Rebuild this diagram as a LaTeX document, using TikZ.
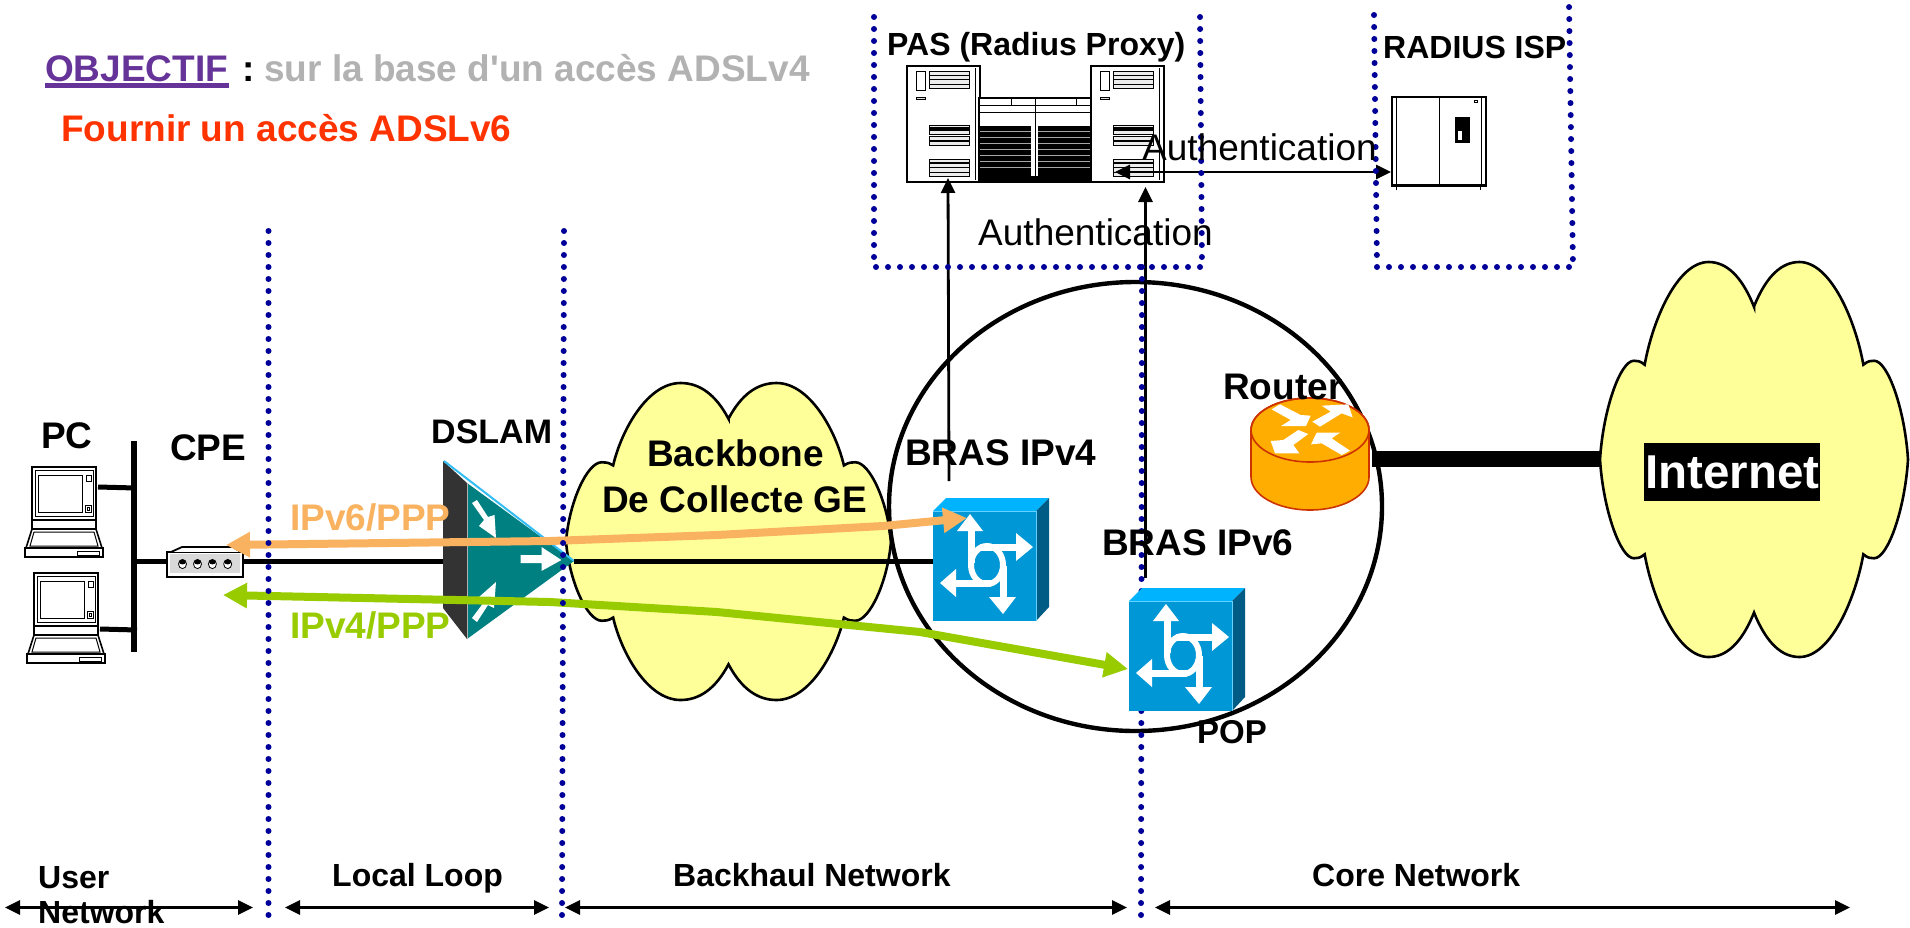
\documentclass[tikz,border=0pt]{standalone}
\usepackage{fontspec}
\setmainfont{Liberation Sans}
\newfontfamily\plainsans{Liberation Sans}
\usetikzlibrary{arrows.meta}
\definecolor{dotblue}{HTML}{000099}
\definecolor{cloudy}{HTML}{FFFF99}
\definecolor{orangearr}{HTML}{F9B25F}
\definecolor{greenarr}{HTML}{99CC00}
\definecolor{purp}{HTML}{663399}
\definecolor{redt}{HTML}{FF3300}
\definecolor{greyt}{HTML}{B2B2B2}
\definecolor{swfront}{HTML}{0097D6}
\definecolor{swtop}{HTML}{00B3FF}
\definecolor{swside}{HTML}{005C85}
\definecolor{routf}{HTML}{FFAD00}
\definecolor{routd}{HTML}{CC3300}
\definecolor{dslamteal}{HTML}{008080}
\tikzset{
  lab/.style={inner sep=0pt,anchor=base west,font=\fontsize{#1}{#1}\selectfont\bfseries},
  lab/.default=37pt,
  authlab/.style={inner sep=0pt,anchor=base west,font=\fontsize{37}{37}\selectfont},
  dotline/.style={draw=dotblue,line width=6pt,line cap=round,dash pattern=on 0pt off 12pt},
  blackarrow/.style={draw=black,line width=2.8pt,-{Triangle[length=15pt,width=14pt]}},
  spanarrow/.style={draw=black,line width=2.8pt,{Triangle[length=15pt,width=14pt]}-{Triangle[length=15pt,width=14pt]}},
  flowarrow/.style={draw=#1,line width=8pt,line join=round,{Triangle[length=24pt,width=24pt]}-{Triangle[length=24pt,width=24pt]}},
  hw/.style={draw=black,line width=2.5pt,fill=white},
  fine/.style={draw=black,line width=1pt},
  swfrontn/.style={fill=swfront,minimum width=103pt,minimum height=110pt,inner sep=0pt},
}
\newcommand{\DrawCloud}[4]{%
  \begin{scope}[shift={(#1,#2)},xscale=#3,yscale=#4]
  \path[fill=cloudy,draw=black,line width=2.6pt,line join=miter]
    (0,-.775) .. controls (.08,-.93) and (.18,-1) .. (.295,-1)
    .. controls (.50,-1) and (.66,-.70) .. (.71,-.48)
    .. controls (.74,-.50) and (.76,-.50) .. (.78,-.50)
    .. controls (.87,-.50) and (.98,-.25) .. (1,0)
    .. controls (.98,.25) and (.87,.50) .. (.78,.50)
    .. controls (.76,.50) and (.74,.50) .. (.71,.48)
    .. controls (.66,.70) and (.50,1) .. (.295,1)
    .. controls (.18,1) and (.08,.93) .. (0,.775)
    .. controls (-.08,.93) and (-.18,1) .. (-.295,1)
    .. controls (-.50,1) and (-.66,.70) .. (-.71,.48)
    .. controls (-.74,.50) and (-.76,.50) .. (-.78,.50)
    .. controls (-.87,.50) and (-.98,.25) .. (-1,0)
    .. controls (-.98,-.25) and (-.87,-.50) .. (-.78,-.50)
    .. controls (-.76,-.50) and (-.74,-.50) .. (-.71,-.48)
    .. controls (-.66,-.70) and (-.50,-1) .. (-.295,-1)
    .. controls (-.18,-1) and (-.08,-.93) .. cycle;
  \end{scope}}
\newcommand{\DrawLaptop}[2]{%
  \begin{scope}[shift={(#1,#2)}]
  \draw[hw,line width=1.8pt] (-7,81) rectangle (71,90);
  \draw[hw,line width=1.6pt] (0,62) -- (64,62) -- (70,81) -- (-6,81) -- cycle;
  \draw[fine] (2,65) -- (62,65) -- (66,79) -- (-2,79) -- cycle;
  \draw[hw,line width=1.6pt] (0,53) rectangle (64,62);
  \draw[hw,line width=2pt] (0,0) rectangle (64,53);
  \draw[fine] (3,3) rectangle (61,49);
  \draw[fine] (6.5,8) rectangle (50,45);
  \draw[fine] (54,8) rectangle (59,14);
  \draw[fine] (53,38) rectangle (59,45);
  \draw[fine] (55,40) rectangle (57,43);
  \draw[fine] (45,84) rectangle (67,88);
  \end{scope}}
\newcommand{\DrawTower}[2]{%
  \begin{scope}[shift={(#1,#2)}]
  \draw[hw,line width=2.6pt] (0,0) rectangle (73,116);
  \draw[fine] (68,2) -- (68,114);
  \draw[fine] (9.4,5) rectangle (18,24.3);
  \draw[fine,fill=gray!25] (9.4,31) rectangle (18,33.7);
  \foreach \yy in {5,9.4,13.8,18.2,59,64.5,70,75.5,93,97.4,101.8,106.2}{
    \draw[fine,fill=gray!15] (22.6,\yy) rectangle (62.8,\yy+4.4);}
  \draw[black,line width=2pt] (22.6,62) -- (62.8,62);
  \draw[black,line width=2pt] (22.6,97.4) -- (62.8,97.4);
  \end{scope}}
\newcommand{\DrawSwitch}[3]{%
  \begin{scope}[shift={(#1,#2)}]
  \fill[swtop] (0,0) -- (13,-13) -- (116,-13) -- (103,0) -- cycle;
  \fill[swside] (103,0) -- (116,-13) -- (116,96) -- (103,110) -- cycle;
  \node[swfrontn] (#3) at (51.5,55) {};
  \draw[swtop!60,line width=.8pt] (0,0) -- (103,0) -- (103,110);
  \begin{scope}[white,line width=7pt]
    \draw (38,18) -- (38,52);
    \draw (47,36) -- (85,36);
    \draw (21,72) -- (58,72);
    \draw (70,55) -- (70,88);
    \draw[line width=6pt] (54,54) ellipse [x radius=16pt,y radius=19pt];
  \end{scope}
  \fill[white] (37,3) -- (50,20) -- (24,20) -- cycle;
  \fill[white] (100,36) -- (83,22) -- (83,50) -- cycle;
  \fill[white] (7,72) -- (23,58) -- (23,86) -- cycle;
  \fill[white] (70,103) -- (56,86) -- (83,86) -- cycle;
  \end{scope}}
\begin{document}
\begin{tikzpicture}[x=1pt,y=-1pt]
\useasboundingbox (0,0) rectangle (1910,927);
\fill[white] (0,0) rectangle (1910,927);
% connector ends
\coordinate (busT) at (134,441);
\coordinate (busB) at (134,652);
\coordinate (pcAend) at (98,487);
\coordinate (pcAbus) at (136,488);
\coordinate (pcBend) at (100,629);
\coordinate (pcBbus) at (137,630);
\coordinate (busM) at (134,561);
\coordinate (dslamIn) at (443,561);
\coordinate (dslamTip) at (574,561);
\coordinate (routerOut) at (1372,458.5);
\coordinate (inetIn) at (1600,458.5);
\coordinate (towerA) at (948,178);
\coordinate (towerAt) at (949,481);
\coordinate (towerB) at (1145.5,187);
\coordinate (towerBt) at (1145.5,578);
\coordinate (authL) at (1115,172);
\coordinate (authR) at (1391,172);
% clouds
\DrawCloud{728.5}{541.5}{162.5}{158.5}
\DrawCloud{1754}{459.5}{154}{197.5}
% circle
\draw[black,line width=4.4pt] (1135.5,506.5) ellipse [x radius=246.5pt,y radius=224.5pt];
% bus and laptops
\draw[black,line width=6pt] (busT) -- (busB);
\draw[black,line width=5pt] (pcAend) -- (pcAbus);
\draw[black,line width=5pt] (pcBend) -- (pcBbus);
\DrawLaptop{32}{467}
\DrawLaptop{34}{573}
\draw[black,line width=5pt] (busM) -- (dslamIn);
% CPE
\draw[hw,line width=1.8pt] (167,552) -- (171,552) -- (182,547) -- (233,547) -- (241,552) -- (243,552) -- (243,577) -- (167,577) -- cycle;
\fill[gray!30] (169.5,554) rectangle (240,573);
\draw[black,line width=.8pt] (171,552) -- (241,552);
\foreach \hx in {182.5,197.5,212.4,227.7}{
  \draw[black,line width=.8pt,fill=white] (\hx,564) ellipse [x radius=4pt,y radius=4.6pt];
  \fill[black] (\hx,562) ellipse [x radius=3.4pt,y radius=2.4pt];}
% DSLAM
\fill[black!80] (443,461) -- (467,483) -- (467,639) -- (443,608) -- cycle;
\fill[dslamteal] (467,483) -- (574,561) -- (467,639) -- cycle;
\draw[cyan!80!white,line width=2pt] (444,461) -- (574,561);
\draw[gray!60,line width=1pt] (467,483) -- (467,639);
\fill[white] (472,503) -- (477,500) -- (488,517) -- (494.5,515) -- (496,538) -- (479,526) -- (484,520) -- cycle;
\fill[white] (520.5,555) -- (541.5,555) -- (541.5,547) -- (561.4,560) -- (541.5,571) -- (541.5,563) -- (520.5,563) -- cycle;
\fill[white] (472,618) -- (477,622) -- (488,605) -- (494,608) -- (496,582) -- (479,597) -- (484,602) -- cycle;
% main line to BRAS IPv4
\DrawSwitch{933}{511}{brasfour}
\draw[black,line width=5pt] (dslamTip) -- (dslamTip -| brasfour.west);
% PAS
\DrawTower{907}{66}
\DrawTower{1091}{66}
\draw[hw,line width=1.4pt] (979,98) rectangle (1091,182);
\draw[fine] (979,105) -- (1091,105);
\draw[fine] (979,112) -- (1091,112);
\draw[fine] (1035.5,98) -- (1035.5,182);
\draw[fine] (1011,98) -- (1011,105);
\draw[fine] (1076,98) -- (1076,105);
\fill[black] (980,126) rectangle (1031,176);
\fill[black] (1038,126) rectangle (1090,176);
\foreach \sy in {131,137,143,149,155,161,167}{
  \draw[gray!70,line width=.7pt] (980,\sy) -- (1031,\sy);
  \draw[gray!70,line width=.7pt] (1038,\sy) -- (1090,\sy);}
\fill[black] (979,176) rectangle (1091,182);
% Radius device
\draw[black,line width=1.5pt] (1396.5,186) -- (1396.5,190);
\draw[black,line width=1.5pt] (1480.6,186) -- (1480.6,190);
\draw[hw,line width=2.4pt] (1392,97) rectangle (1486,186);
\draw[black,line width=2.5pt] (1392,185) -- (1486,185);
\draw[fine] (1396.5,97) -- (1396.5,185);
\draw[fine] (1481.5,97) -- (1481.5,185);
\draw[fine] (1439.5,97) -- (1439.5,185);
\fill[black] (1455,117) rectangle (1470,143);
\fill[white] (1458,131) rectangle (1462,140);
\draw[black,line width=.7pt] (1474.5,100) rectangle (1477,102.5);
% black arrows
\draw[blackarrow] (towerAt) -- (towerA);
\draw[blackarrow] (towerBt) -- (towerB);
\draw[spanarrow] (authL) -- (authR);
% flow arrows
\coordinate (oL) at (226,545);
\coordinate (oA) at (550,541);
\coordinate (oB) at (717,535);
\coordinate (oC) at (883,526);
\coordinate (oR) at (967,518);
\draw[flowarrow=orangearr] (oL) -- (oA) -- (oB) -- (oC) -- (oR);
\coordinate (gL) at (223,595);
\coordinate (gA) at (550,602);
\coordinate (gB) at (717,612);
\coordinate (gC) at (920,632);
\coordinate (gR) at (1128,669);
\draw[flowarrow=greenarr] (gL) -- (gA) -- (gB) -- (gC) -- (gR);
% dotted lines
\path[dotline] (268.5,231) -- (268.5,920);
\path[dotline] (564,231) -- (562,920);
\path[dotline] (1142,267) -- (1141,922);
\path[dotline] (874,17) -- (874,267) -- (1202,267) -- (1200,15);
\path[dotline] (1374,15) -- (1377,267) -- (1573,267) -- (1569,3);
% BRAS IPv6
\DrawSwitch{1129}{601}{brassix}
% router
\path[fill=routf,draw=routd,line width=1.6pt] (1251,430) -- (1251,477) arc[start angle=180,end angle=360,x radius=59pt,y radius=33pt] -- (1369,430) arc[start angle=0,end angle=180,x radius=59pt,y radius=32pt] -- cycle;
\draw[routd,line width=1.6pt] (1310,430) ellipse [x radius=59pt,y radius=32pt];
\begin{scope}[shift={(880,360)},scale=1/3]
\fill[white] (1175,148) -- (1200,133) -- (1262,165) -- (1292,167) -- (1278,198) -- (1203,198) -- (1232,180) -- cycle;
\fill[white] (1325,137) -- (1405,133) -- (1418,172) -- (1385,160) -- (1320,200) -- (1297,185) -- (1352,155) -- cycle;
\fill[white] (1172,243) -- (1210,240) -- (1255,210) -- (1285,222) -- (1240,255) -- (1258,280) -- (1185,280) -- cycle;
\fill[white] (1293,253) -- (1310,218) -- (1380,218) -- (1355,235) -- (1410,272) -- (1385,285) -- (1325,250) -- cycle;
\end{scope}
% thick link
\draw[black,line width=16pt] (routerOut) -- (inetIn);
% span arrows
\coordinate (sA) at (5,907.5);
\coordinate (sB) at (253,907.5);
\coordinate (sC) at (285,907.5);
\coordinate (sD) at (549,907.5);
\coordinate (sE) at (565,907.5);
\coordinate (sF) at (1127,907.5);
\coordinate (sG) at (1155,907.5);
\coordinate (sH) at (1850,907.5);
\draw[spanarrow] (sA) -- (sB);
\draw[spanarrow] (sC) -- (sD);
\draw[spanarrow] (sE) -- (sF);
\draw[spanarrow] (sG) -- (sH);
% labels
\node[lab] (obj) at (45,81) {\textcolor{purp}{OBJECTIF}};
\draw[purp,line width=4.5pt] (45,85.5) -- (229,85.5);
\node[lab] (colon) at (242,81) {:};
\node[lab] (sur) at (264,81) {\textcolor{greyt}{sur la base d{\plainsans\bfseries '}un accès ADSLv4}};
\node[lab] (four) at (61,141) {\textcolor{redt}{Fournir un accès ADSLv6}};
\node[lab=32pt] (pas) at (887,55) {PAS (Radius Proxy)};
\node[lab=32pt] (rad) at (1383,58) {RADIUS ISP};
\node[authlab] (auA) at (1142,160) {Authentication};
\node[authlab] (auB) at (978,245) {Authentication};
\node[lab] (pc) at (41,448) {PC};
\node[lab] (cpe) at (170,460) {CPE};
\node[lab=34pt] (dslam) at (431,443) {DSLAM};
\node[lab] (ipsix) at (290,530) {\textcolor{orangearr}{IPv6/PPP}};
\node[lab] (ipfour) at (290,638) {\textcolor{greenarr}{IPv4/PPP}};
\node[lab] (bb) at (647,466) {Backbone};
\node[lab] (dc) at (602,512) {De Collecte GE};
\node[lab] (brA) at (905,465) {BRAS IPv4};
\node[lab] (brB) at (1102,555) {BRAS IPv6};
\node[lab] (rt) at (1223,399) {Router};
\node[lab=33pt] (pop) at (1197,743) {POP};
\node[fill=black,text=white,inner sep=0pt,minimum width=176.5pt,minimum height=58pt,font=\fontsize{47.5}{47.5}\selectfont\bfseries] (inet) at (1732.2,472) {Internet};
\node[lab=32pt] (us) at (38,888) {User};
\node[lab=32pt] (nt) at (38,923) {Network};
\node[lab=32pt] (ll) at (332,886) {Local Loop};
\node[lab=32pt] (bh) at (673,886) {Backhaul Network};
\node[lab=32pt] (cn) at (1312,886) {Core Network};
\end{tikzpicture}
\end{document}
